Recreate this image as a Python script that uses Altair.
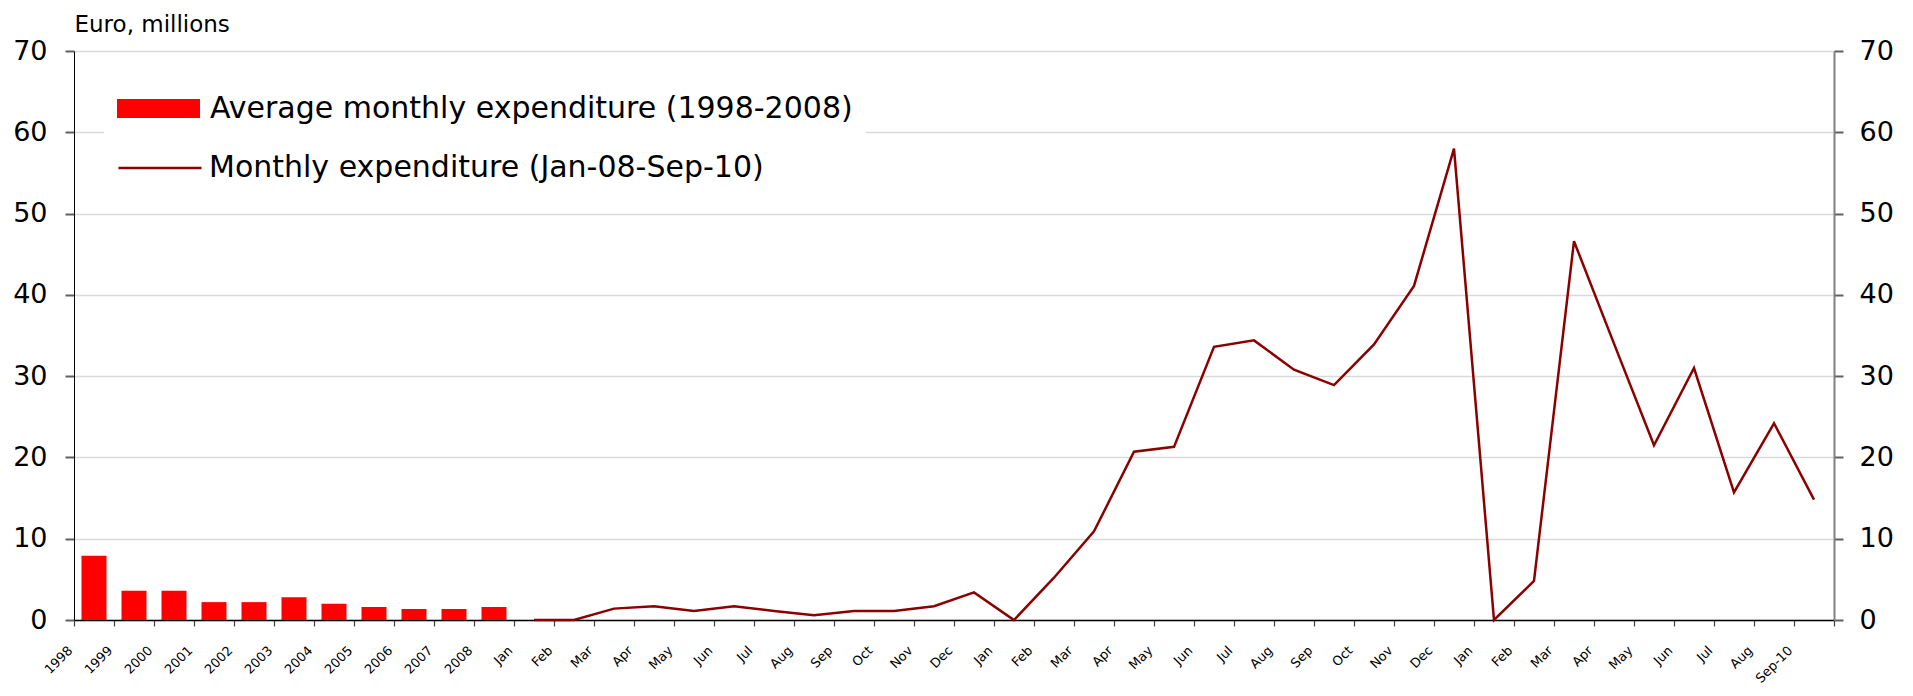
import altair as alt
import pandas as pd

# ---- data ----
years = ["1998", "1999", "2000", "2001", "2002", "2003", "2004", "2005", "2006", "2007", "2008"]
avg_monthly = [7.9, 3.6, 3.6, 2.2, 2.2, 2.8, 2.0, 1.6, 1.35, 1.35, 1.6]

months = [
    "Jan-08", "Feb-08", "Mar-08", "Apr-08", "May-08", "Jun-08", "Jul-08", "Aug-08", "Sep-08", "Oct-08", "Nov-08", "Dec-08",
    "Jan-09", "Feb-09", "Mar-09", "Apr-09", "May-09", "Jun-09", "Jul-09", "Aug-09", "Sep-09", "Oct-09", "Nov-09", "Dec-09",
    "Jan-10", "Feb-10", "Mar-10", "Apr-10", "May-10", "Jun-10", "Jul-10", "Aug-10", "Sep-10",
]
monthly = [
    0.0, 0.0, 1.4, 1.7, 1.1, 1.7, 1.1, 0.6, 1.1, 1.1, 1.7, 3.4,
    0.0, 5.2, 10.9, 20.7, 21.3, 33.6, 34.4, 30.8, 28.9, 33.9, 41.1, 58.0,
    0.0, 4.8, 46.6, 34.0, 21.5, 31.0, 15.7, 24.2, 14.8,
]
month_labels = [
    "Jan", "Feb", "Mar", "Apr", "May", "Jun", "Jul", "Aug", "Sep", "Oct", "Nov", "Dec",
    "Jan", "Feb", "Mar", "Apr", "May", "Jun", "Jul", "Aug", "Sep", "Oct", "Nov", "Dec",
    "Jan", "Feb", "Mar", "Apr", "May", "Jun", "Jul", "Aug", "Sep-10",
]

bar_series = "Average monthly expenditure (1998-2008)"
line_series = "Monthly expenditure (Jan-08-Sep-10)"
y_title = "Euro, millions"
y_ticks = [0, 10, 20, 30, 40, 50, 60, 70]

categories = years + months
display_labels = years + month_labels

bars_df = pd.DataFrame({"cat": years, "value": avg_monthly, "series": bar_series})
line_df = pd.DataFrame({"cat": months, "value": monthly, "series": line_series})

FONT = "DejaVu Sans"

cat_js = "[" + ",".join("'" + c + "'" for c in categories) + "]"
lab_js = "[" + ",".join("'" + c + "'" for c in display_labels) + "]"
label_expr = f"{lab_js}[indexof({cat_js}, datum.value)]"

x_enc = alt.X(
    "cat:N",
    sort=categories,
    scale=alt.Scale(domain=categories, paddingInner=0, paddingOuter=0),
    axis=alt.Axis(
        title=None,
        labelExpr=label_expr,
        labelAngle=-45,
        labelAlign="right",
        labelBaseline="middle",
        labelFont=FONT,
        labelFontSize=13,
        labelColor="#000000",
        labelOffset=-24,
        labelPadding=22,
        labelOverlap=False,
        tickBand="extent",
        tickSize=6,
        tickColor="#404040",
        tickWidth=1.2,
        domainColor="#000000",
        domainWidth=1.5,
        grid=False,
    ),
)

y_scale = alt.Scale(domain=[0, 70], nice=False)

bars = alt.Chart(bars_df).mark_bar(size=25).encode(
    x=x_enc,
    y=alt.Y(
        "value:Q",
        scale=y_scale,
        axis=alt.Axis(
            orient="left",
            values=y_ticks,
            title=y_title,
            titleAngle=0,
            titleAlign="left",
            titleBaseline="alphabetic",
            titleX=0,
            titleY=-20,
            titleFont=FONT,
            titleFontSize=23,
            titleFontWeight="normal",
            titleColor="#000000",
            labelFont=FONT,
            labelFontSize=27,
            labelColor="#000000",
            labelPadding=18,
            tickSize=9,
            tickColor="#606060",
            tickWidth=2,
            domainColor="#000000",
            domainWidth=1,
            grid=True,
            gridColor="#d9d9d9",
            gridWidth=1.5,
        ),
    ),
    color=alt.Color(
        "series:N",
        scale=alt.Scale(domain=[bar_series], range=["#ff0000"]),
        legend=alt.Legend(
            title=None,
            orient="none",
            legendX=30,
            legendY=3,
            padding=13,
            fillColor="#ffffff",
            symbolType="M-1,-0.23H1V0.23H-1Z",
            symbolSize=6889,
            symbolStrokeWidth=0,
            symbolOpacity=1,
            labelFont=FONT,
            labelFontSize=30,
            labelColor="#000000",
            labelOffset=10,
            labelLimit=0,
        ),
    ),
)

line = alt.Chart(line_df).mark_line(strokeWidth=2.5).encode(
    x=alt.X("cat:N", sort=categories),
    y=alt.Y(
        "value:Q",
        scale=y_scale,
        axis=alt.Axis(
            orient="right",
            values=y_ticks,
            title=None,
            labelFont=FONT,
            labelFontSize=27,
            labelColor="#000000",
            labelPadding=16,
            tickSize=9,
            tickColor="#606060",
            tickWidth=2,
            domainColor="#808080",
            domainWidth=2,
            grid=False,
        ),
    ),
    stroke=alt.Stroke(
        "series:N",
        scale=alt.Scale(domain=[line_series], range=["#8b0000"]),
        legend=alt.Legend(
            title=None,
            orient="none",
            legendX=43,
            legendY=74,
            padding=0,
            fillColor="#ffffff",
            symbolType="stroke",
            symbolSize=6889,
            symbolStrokeWidth=2.5,
            labelFont=FONT,
            labelFontSize=30,
            labelColor="#000000",
            labelOffset=6,
            labelLimit=0,
        ),
    ),
)

chart = (
    alt.layer(bars, line)
    .resolve_scale(y="independent", color="independent", stroke="independent")
    .properties(
        width=1760,
        height=569,
        padding={"left": 66, "top": 43, "right": 70, "bottom": 70},
        autosize=alt.AutoSizeParams(type="none"),
        background="#ffffff",
    )
    .configure_view(strokeWidth=0)
)

chart.save("out.html", embed_options={"renderer": "svg", "actions": False})
